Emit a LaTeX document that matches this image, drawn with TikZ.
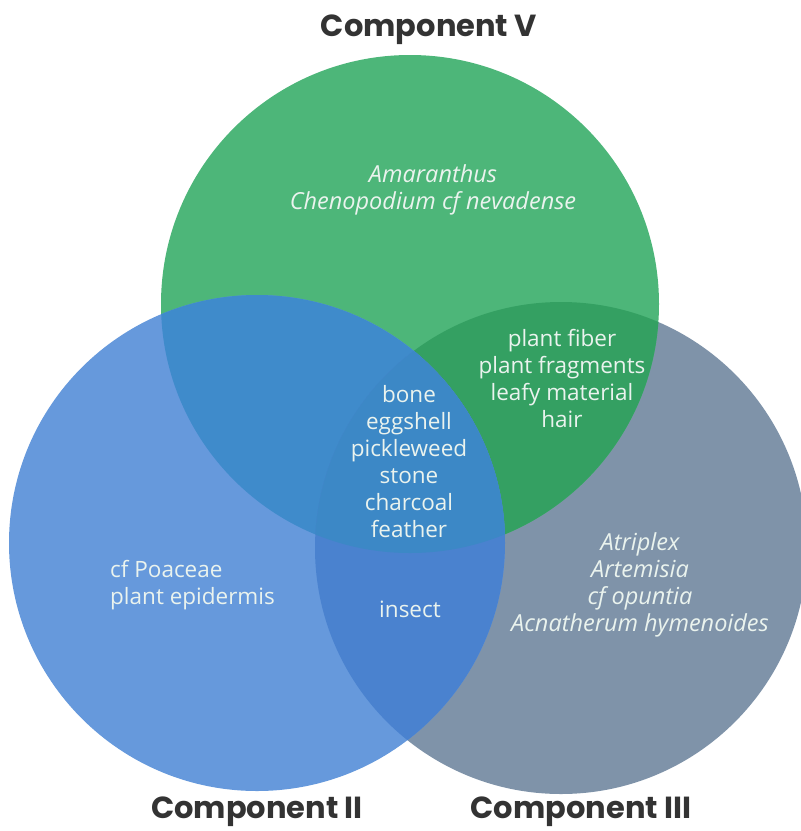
\documentclass[tikz,border=0pt]{standalone}
\usepackage{fontspec}
\setmainfont{Open Sans}
\newfontfamily\headfont{Poppins}
\definecolor{cgrey}{HTML}{7F93A9}
\definecolor{cgreen}{HTML}{4DB679}
\definecolor{cblue}{HTML}{6699DC}
\definecolor{cgg}{HTML}{34A062}
\definecolor{cbg}{HTML}{3F8BCB}
\definecolor{cbgr}{HTML}{4A82CF}
\definecolor{ccen}{HTML}{3C88C6}
\definecolor{ctitle}{HTML}{333333}
\definecolor{ctext}{HTML}{EAF3EE}
\tikzset{
  title/.style={text=ctitle,font=\headfont\bfseries\fontsize{30.5}{30.5}\selectfont,inner sep=0pt,anchor=base},
  body/.style={text=ctext,font=\fontsize{22.5}{27}\selectfont,align=center,inner sep=0pt},
  ibody/.style={body,font=\itshape\fontsize{23.5}{27}\selectfont}
}
\begin{document}
\begin{tikzpicture}[x=1pt,y=-1pt]
\useasboundingbox (0,0) rectangle (801,831);
\coordinate (cV) at (410,304);
\coordinate (cII) at (257,543);
\coordinate (cIII) at (561,548);
\def\rV{249}\def\rII{248}\def\rIII{246}
\fill[cgrey] (cIII) circle (\rIII);
\fill[cgreen] (cV) circle (\rV);
\begin{scope}\clip (cV) circle (\rV); \fill[cgg] (cIII) circle (\rIII); \end{scope}
\fill[cblue] (cII) circle (\rII);
\begin{scope}\clip (cII) circle (\rII); \fill[cbg] (cV) circle (\rV); \end{scope}
\begin{scope}\clip (cII) circle (\rII); \fill[cbgr] (cIII) circle (\rIII); \end{scope}
\begin{scope}\clip (cII) circle (\rII); \clip (cV) circle (\rV); \fill[ccen] (cIII) circle (\rIII); \end{scope}

\node[title] (tV) at (429,36) {Component V};
\node[title] (tII) at (257,818) {Component II};
\node[title] (tIII) at (581,818) {Component III};

\node[ibody] (onlyV) at (433,189.5) {Amaranthus\\Chenopodium cf nevadense};
\node[body] (VIII) at (562,378) {plant fiber\\plant fragments\\leafy material\\hair};
\node[body] (all) at (409,461.5) {bone\\eggshell\\pickleweed\\stone\\charcoal\\feather};
\node[body,align=left,anchor=west] (onlyII) at (110,585) {cf Poaceae\\plant epidermis};
\node[body] (IIIII) at (410,609) {insect};
\node[ibody] (onlyIII) at (640,585) {Atriplex\\Artemisia\\cf opuntia\\Acnatherum hymenoides};
\end{tikzpicture}
\end{document}
